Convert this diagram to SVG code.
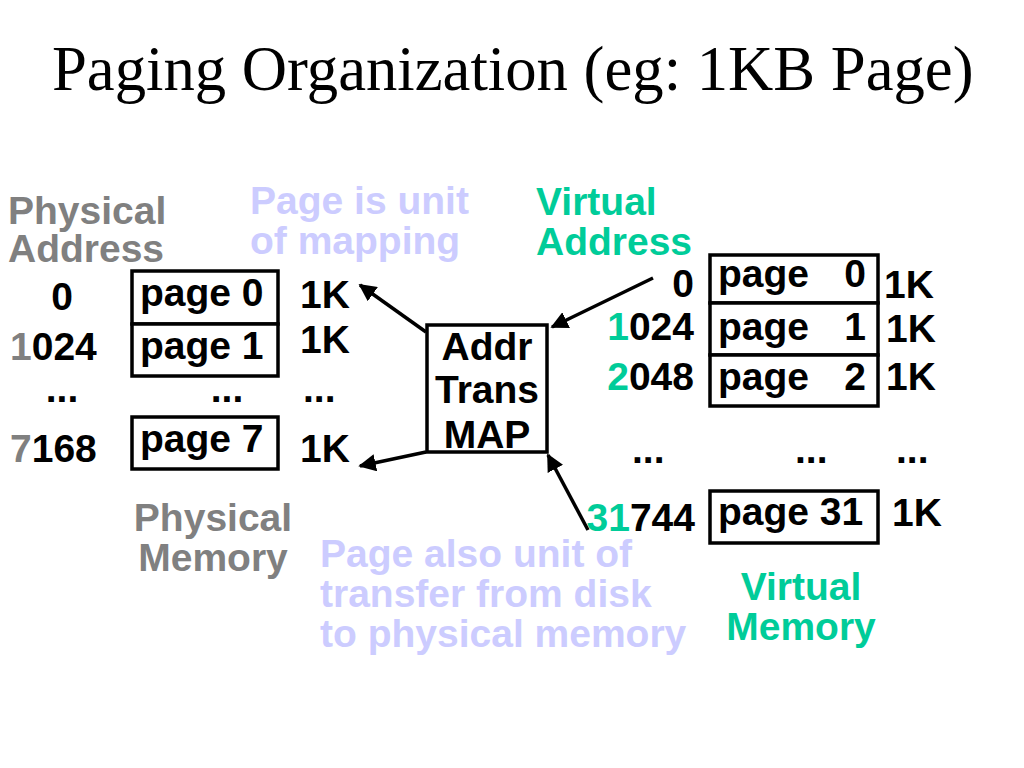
<svg xmlns="http://www.w3.org/2000/svg" width="1024" height="768" viewBox="0 0 1024 768">
<style>
text{font-family:"Liberation Sans",Arial,sans-serif;font-weight:bold;font-size:39px;fill:#000}
.title{font-family:"Liberation Serif","Times New Roman",serif;font-weight:normal;font-size:62.7px}
.g{fill:#808080}
.p{fill:#ccccff}
.v{fill:#00cc99}
.box{fill:#fff;stroke:#000;stroke-width:3.5}
.c{text-anchor:middle}
.e{text-anchor:end}
.line{stroke:#000;stroke-width:3.5;fill:none}
</style>
<defs>
<marker id="ah" viewBox="0 0 10 10" refX="9" refY="5" markerWidth="5" markerHeight="5" orient="auto" markerUnits="strokeWidth">
<path d="M0,0 L10,5 L0,10 z" fill="#000"/>
</marker>
</defs>
<rect width="1024" height="768" fill="#fff"/>
<text class="title" x="52" y="90">Paging Organization (eg: 1KB Page)</text>

<g id="labels">
<text class="g" x="8" y="224">Physical</text>
<text class="g" x="8" y="262">Address</text>
<text class="p" x="250" y="214">Page is unit</text>
<text class="p" x="250" y="254">of mapping</text>
<text class="v" x="536" y="215">Virtual</text>
<text class="v" x="536" y="255">Address</text>
<text class="g c" x="213" y="531">Physical</text>
<text class="g c" x="213" y="571">Memory</text>
<text class="p" x="320" y="567">Page also unit of</text>
<text class="p" x="320" y="607">transfer from disk</text>
<text class="p" x="320" y="647">to physical memory</text>
<text class="v c" x="801" y="600">Virtual</text>
<text class="v c" x="801" y="640">Memory</text>
</g>

<g id="phys-addresses">
<text class="c" x="62" y="310">0</text>
<text x="10" y="360"><tspan class="g">1</tspan>024</text>
<text class="c" x="62" y="402">...</text>
<text x="10" y="462"><tspan class="g">7</tspan>168</text>
</g>

<g id="phys-page0"><rect class="box" x="132" y="271" width="146" height="53"/><text x="140" y="306">page 0</text></g>
<g id="phys-page1"><rect class="box" x="132" y="324" width="146" height="52"/><text x="140" y="359">page 1</text></g>
<text class="c" x="227" y="402">...</text>
<g id="phys-page7"><rect class="box" x="132" y="417" width="146" height="52"/><text x="140" y="452">page 7</text></g>

<g id="phys-sizes">
<text x="300" y="308">1K</text>
<text x="300" y="353">1K</text>
<text x="303" y="402">...</text>
<text x="300" y="462">1K</text>
</g>

<g id="map"><rect class="box" x="427" y="325" width="120" height="127"/>
<text class="c" x="487" y="360">Addr</text>
<text class="c" x="487" y="403">Trans</text>
<text class="c" x="487" y="448">MAP</text>
</g>

<g id="virt-addresses">
<text class="e" x="694" y="297">0</text>
<text class="e" x="694" y="340"><tspan class="v">1</tspan>024</text>
<text class="e" x="694" y="390"><tspan class="v">2</tspan>048</text>
<text x="632" y="463">...</text>
<text class="e" x="695" y="531"><tspan class="v">31</tspan>744</text>
</g>

<g id="virt-page0"><rect class="box" x="710" y="255" width="168" height="48"/><text x="718" y="287">page</text><text class="e" x="866" y="287">0</text></g>
<g id="virt-page1"><rect class="box" x="710" y="303" width="168" height="52"/><text x="718" y="340">page</text><text class="e" x="866" y="340">1</text></g>
<g id="virt-page2"><rect class="box" x="710" y="355" width="168" height="51"/><text x="718" y="390">page</text><text class="e" x="866" y="390">2</text></g>
<text x="795" y="463">...</text>
<g id="virt-page31"><rect class="box" x="710" y="491" width="168" height="52"/><text x="718" y="525">page 31</text></g>

<g id="virt-sizes">
<text x="884" y="298">1K</text>
<text x="886" y="342">1K</text>
<text x="886" y="390">1K</text>
<text x="896" y="463">...</text>
<text x="892" y="526">1K</text>
</g>

<g id="connectors">
<line class="line" x1="426" y1="332" x2="360" y2="285" marker-end="url(#ah)"/>
<line class="line" x1="426" y1="452" x2="360" y2="466" marker-end="url(#ah)"/>
<line class="line" x1="653" y1="278" x2="552" y2="327" marker-end="url(#ah)"/>
<line class="line" x1="588" y1="530" x2="548" y2="455" marker-end="url(#ah)"/>
</g>
</svg>
